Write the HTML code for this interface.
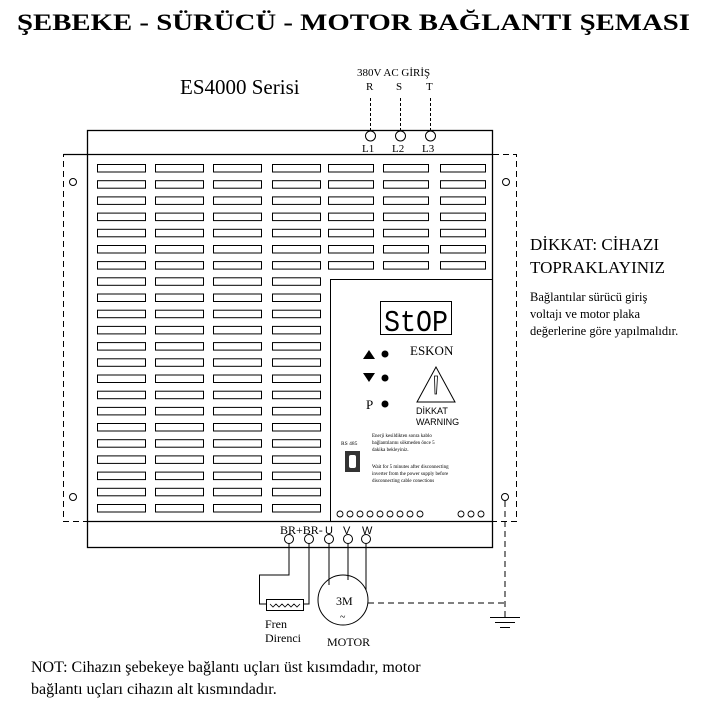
<!DOCTYPE html>
<html><head><meta charset="utf-8"><style>
body{margin:0;background:#fff}
svg{display:block}
text{font-family:"Liberation Serif",serif;fill:#000}
.s{font-family:"Liberation Sans",sans-serif}
</style></head><body>
<svg width="705" height="704" viewBox="0 0 705 704" xmlns="http://www.w3.org/2000/svg">
<defs>
<g id="c22" fill="none" stroke="#000" stroke-width="1">
<rect x="0.5" y="164.5" width="48" height="7.5"/><rect x="0.5" y="180.7" width="48" height="7.5"/><rect x="0.5" y="196.9" width="48" height="7.5"/><rect x="0.5" y="213.1" width="48" height="7.5"/><rect x="0.5" y="229.3" width="48" height="7.5"/><rect x="0.5" y="245.5" width="48" height="7.5"/><rect x="0.5" y="261.6" width="48" height="7.5"/><rect x="0.5" y="277.8" width="48" height="7.5"/><rect x="0.5" y="294" width="48" height="7.5"/><rect x="0.5" y="310.2" width="48" height="7.5"/><rect x="0.5" y="326.4" width="48" height="7.5"/><rect x="0.5" y="342.6" width="48" height="7.5"/><rect x="0.5" y="358.8" width="48" height="7.5"/><rect x="0.5" y="375" width="48" height="7.5"/><rect x="0.5" y="391.2" width="48" height="7.5"/><rect x="0.5" y="407.4" width="48" height="7.5"/><rect x="0.5" y="423.5" width="48" height="7.5"/><rect x="0.5" y="439.7" width="48" height="7.5"/><rect x="0.5" y="455.9" width="48" height="7.5"/><rect x="0.5" y="472.1" width="48" height="7.5"/><rect x="0.5" y="488.3" width="48" height="7.5"/><rect x="0.5" y="504.5" width="48" height="7.5"/>
</g>
<g id="c7" fill="none" stroke="#000" stroke-width="1">
<rect x="0.5" y="164.5" width="45" height="7.5"/><rect x="0.5" y="180.7" width="45" height="7.5"/><rect x="0.5" y="196.9" width="45" height="7.5"/><rect x="0.5" y="213.1" width="45" height="7.5"/><rect x="0.5" y="229.3" width="45" height="7.5"/><rect x="0.5" y="245.5" width="45" height="7.5"/><rect x="0.5" y="261.6" width="45" height="7.5"/>
</g>
</defs>
<text x="17" y="30" font-size="23" font-weight="bold" textLength="673" lengthAdjust="spacingAndGlyphs">ŞEBEKE - SÜRÜCÜ - MOTOR BAĞLANTI ŞEMASI</text>
<text x="180" y="94" font-size="21">ES4000 Serisi</text>
<text x="357" y="76" font-size="11">380V AC GİRİŞ</text>
<text x="366" y="90" font-size="11">R</text><text x="396" y="90" font-size="11">S</text><text x="426" y="90" font-size="11">T</text>
<g stroke="#000" stroke-width="1" fill="none">
<path d="M370.5 98V131M400.5 98V131M430.5 98V131" stroke-dasharray="3,2"/>
<circle cx="370.5" cy="136" r="5"/><circle cx="400.5" cy="136" r="5"/><circle cx="430.5" cy="136" r="5"/>
<rect x="87.5" y="130.5" width="405" height="417" stroke-width="1.3"/>
<path d="M63.5 154.5H493" stroke-width="1.3"/>
<path d="M87 154.5H63.5V521.5H87M493 154.5H516.5V521.5H493" stroke-dasharray="6,4"/>
<circle cx="73" cy="182" r="3.5"/><circle cx="73" cy="497" r="3.5"/><circle cx="506" cy="182" r="3.5"/><circle cx="505" cy="497" r="3.5"/>
<path d="M87 521.5H493" stroke-width="1.3"/>
<rect x="330.5" y="279.5" width="162" height="242"/>
</g>
<use href="#c22" x="97"/><use href="#c22" x="155"/><use href="#c22" x="213"/><use href="#c22" x="272"/>
<use href="#c7" x="328"/><use href="#c7" x="383"/><use href="#c7" x="440"/>
<text x="362" y="152" font-size="11">L1</text><text x="392" y="152" font-size="11">L2</text><text x="422" y="152" font-size="11">L3</text>
<rect x="380.5" y="301.5" width="71" height="33" fill="none" stroke="#000"/>
<text x="384" y="331" font-size="31" textLength="64" lengthAdjust="spacingAndGlyphs" style="font-family:'Liberation Mono',monospace">StOP</text>
<text x="410" y="355" font-size="13">ESKON</text>
<path d="M363 359L369 350L375 359Z M363 373L369 382L375 373Z" fill="#000"/>
<circle cx="385" cy="354" r="3.5"/><circle cx="385" cy="378" r="3.5"/><circle cx="385" cy="404" r="3.5"/>
<text x="366" y="409" font-size="13">P</text>
<path d="M436 367L417 402H455Z" fill="none" stroke="#000"/>
<path d="M434.5 376L437.5 376L436.5 394L435 394Z" fill="none" stroke="#000" stroke-width=".8"/>
<text x="416" y="414" font-size="9" class="s">DİKKAT</text>
<text x="416" y="425" font-size="9" class="s">WARNING</text>
<text x="341" y="445" font-size="5.5">RS 485</text>
<rect x="345" y="451" width="15" height="21" fill="#333"/><rect x="349" y="455" width="7" height="13" rx="2" fill="#fff"/>
<g font-size="5">
<text x="372" y="437">Enerji kesildikten sonra kablo</text>
<text x="372" y="444">bağlantılarını sökmeden önce 5</text>
<text x="372" y="451">dakika bekleyiniz.</text>
<text x="372" y="468">Wait for 5 minutes after disconnecting</text>
<text x="372" y="475">inverter from the power supply before</text>
<text x="372" y="482">disconnecting cable conections</text>
</g>
<g fill="none" stroke="#000" stroke-width=".9">
<circle cx="340" cy="514" r="3"/><circle cx="350" cy="514" r="3"/><circle cx="360" cy="514" r="3"/><circle cx="370" cy="514" r="3"/><circle cx="380" cy="514" r="3"/><circle cx="390" cy="514" r="3"/><circle cx="400" cy="514" r="3"/><circle cx="410" cy="514" r="3"/><circle cx="420" cy="514" r="3"/>
<circle cx="461" cy="514" r="3"/><circle cx="471" cy="514" r="3"/><circle cx="481" cy="514" r="3"/>
</g>
<text x="280" y="534" font-size="12">BR+BR-</text>
<text x="325" y="534" font-size="11" class="s">U</text><text x="343" y="534" font-size="11" class="s">V</text><text x="362" y="534" font-size="11" class="s">W</text>
<g fill="none" stroke="#000" stroke-width="1">
<circle cx="289" cy="539" r="4.5"/><circle cx="309" cy="539" r="4.5"/><circle cx="329" cy="539" r="4.5"/><circle cx="348" cy="539" r="4.5"/><circle cx="366" cy="539" r="4.5"/>
<path d="M289 543.5V575H259.5V604H266M309 543.5V604H303"/>
<rect x="266.5" y="599.5" width="37" height="11"/>
<path d="M270 604l3 3l3-3l3 3l3-3l3 3l3-3l3 3l3-3l3 3l3-3" stroke-width=".8"/>
<path d="M329 543.5V585M348 543.5V580M366 543.5V590"/>
<circle cx="343" cy="600" r="25"/>
<path d="M368 603H505M505 501V617" stroke-dasharray="6,4"/>
<path d="M490 617.5H520M495 622.5H515M500 627.5H510"/>
</g>
<text x="336" y="605" font-size="12">3M</text><text x="340" y="620" font-size="10">~</text>
<text x="265" y="628" font-size="12">Fren</text><text x="265" y="642" font-size="12">Direnci</text>
<text x="327" y="646" font-size="12">MOTOR</text>
<text x="530" y="250" font-size="17">DİKKAT: CİHAZI</text>
<text x="530" y="273" font-size="17">TOPRAKLAYINIZ</text>
<text x="530" y="301" font-size="12.5">Bağlantılar sürücü giriş</text>
<text x="530" y="318" font-size="12.5">voltajı ve motor plaka</text>
<text x="530" y="335" font-size="12.5">değerlerine göre yapılmalıdır.</text>
<text x="31" y="672" font-size="16">NOT: Cihazın şebekeye bağlantı uçları üst kısımdadır, motor</text>
<text x="31" y="694" font-size="16">bağlantı uçları cihazın alt kısmındadır.</text>
</svg>
</body></html>
